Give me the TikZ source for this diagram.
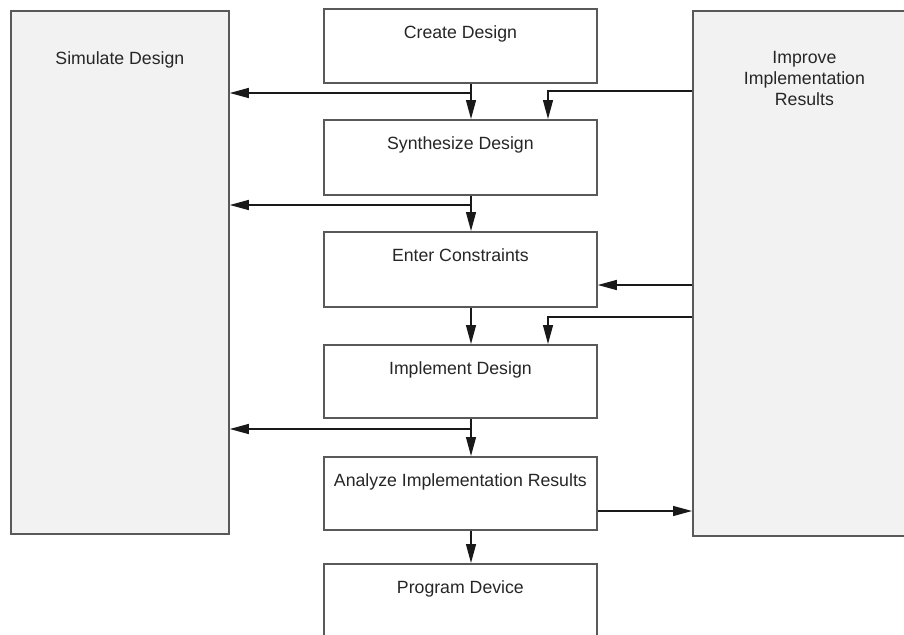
\documentclass[tikz,border=0pt]{standalone}
\usepackage{fontspec}
\setmainfont{Liberation Sans}
\usetikzlibrary{arrows.meta}
\begin{document}
\begin{tikzpicture}[x=1pt,y=-1pt,
  every node/.style={font=\fontsize{17.7}{21}\selectfont, text=black!85},
  flowbox/.style={draw=black!65, line width=1.8pt, fill=white, inner sep=0pt,
    minimum width=273pt, anchor=north west},
  sidebox/.style={draw=black!65, line width=1.8pt, fill=black!5, inner sep=0pt,
    anchor=north west},
  caption/.style={label={[anchor=north, yshift=-14pt, align=center,
    font=\fontsize{17.7}{21}\selectfont, text=black!85]north:#1}},
  sidecaption/.style={label={[anchor=north, yshift=-38pt, align=center,
    font=\fontsize{17.7}{21}\selectfont, text=black!85]north:#1}},
  flow/.style={draw=black!90, line width=1.3pt,
    -{Triangle[length=19pt,width=10pt]}}]

\useasboundingbox (0,0) rectangle (904,634);
\clip (0,0) rectangle (904,634);

% side panels
\node[sidebox, minimum width=218pt, minimum height=523pt,
  sidecaption={Simulate Design}] (sim) at (10,10) {};
\node[sidebox, minimum width=223pt, minimum height=525pt,
  sidecaption={Improve\\Implementation\\Results}] (imp) at (692,10) {};

% main flow
\node[flowbox, minimum height=74pt, caption=Create Design] (create) at (323,8) {};
\node[flowbox, minimum height=75pt, caption=Synthesize Design] (synth) at (323,119) {};
\node[flowbox, minimum height=75pt, caption=Enter Constraints] (enter) at (323,231) {};
\node[flowbox, minimum height=73pt, caption=Implement Design] (impl) at (323,344) {};
\node[flowbox, minimum height=73pt, caption=Analyze Implementation Results] (anal) at (323,456) {};
\node[flowbox, minimum height=80pt, caption=Program Device] (prog) at (323,563) {};

% spine and branch points
\coordinate (sp) at (471,0);
\coordinate (fb) at (548,0);
\coordinate (b1) at (471,93);
\coordinate (b2) at (471,205);
\coordinate (b3) at (471,429);
\coordinate (r1) at (548,91);
\coordinate (r2) at (596,285);
\coordinate (r3) at (548,317);
\coordinate (r4) at (596,511);

% downward flow
\draw[flow] (create.south -| sp) -- (synth.north -| sp);
\draw[flow] (synth.south -| sp) -- (enter.north -| sp);
\draw[flow] (enter.south -| sp) -- (impl.north -| sp);
\draw[flow] (impl.south -| sp) -- (anal.north -| sp);
\draw[flow] (anal.south -| sp) -- (prog.north -| sp);

% to simulation
\draw[flow] (b1) -- (sim.east |- b1);
\draw[flow] (b2) -- (sim.east |- b2);
\draw[flow] (b3) -- (sim.east |- b3);

% feedback from improvement
\draw[flow] (imp.west |- r1) -- (r1) -- (synth.north -| fb);
\draw[flow] (imp.west |- r2) -- (enter.east |- r2);
\draw[flow] (imp.west |- r3) -- (r3) -- (impl.north -| fb);
\draw[flow] (anal.east |- r4) -- (imp.west |- r4);
\end{tikzpicture}
\end{document}
